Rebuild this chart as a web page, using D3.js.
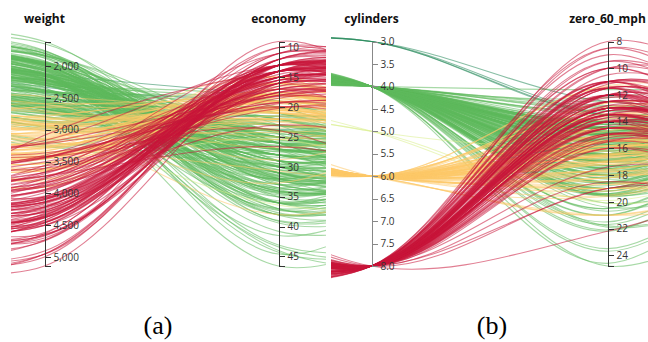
<!DOCTYPE html>
<html>
<head>
<meta charset="utf-8">
<script src="https://cdn.jsdelivr.net/npm/d3@7"></script>
<style>
  html, body { margin: 0; padding: 0; background: #fff; }
  svg { display: block; }
  .axis path, .axis line { stroke: #333; shape-rendering: crispEdges; }
  .axis text { font-family: "Open Sans", sans-serif; font-size: 10px; fill: #333; }
  .axis.muted path, .axis.muted line { stroke: #888; }
  .title { font-family: "Open Sans", sans-serif; font-weight: bold; font-size: 12px; fill: #111; }
  .caption { font-family: "Liberation Serif", "Times New Roman", serif; font-size: 26px; fill: #000; }
</style>
</head>
<body>
<svg id="chart" width="648" height="342"></svg>
<script>
// Cars (auto-mpg), grouped by model year 1970 … 1982, one value per car in each column.
const economy = [
  18,15,18,16,17,15,14,14,14,15,15,14,15,14,24,22,18,21,27,26,25,24,25,26,21,10,10,11,9,
  27,28,25,19,16,17,19,18,14,14,14,14,12,13,13,18,22,19,18,23,28,30,30,31,35,27,26,
  24,25,23,20,21,13,14,15,14,17,11,13,12,13,19,15,13,13,14,18,22,21,26,22,28,23,28,27,
  13,14,13,14,15,12,13,13,14,13,12,13,18,16,18,18,23,26,11,12,13,12,18,20,21,22,18,19,21,26,15,16,29,24,20,19,15,24,20,11,
  20,21,19,15,31,26,32,25,16,16,18,16,13,14,14,14,29,26,26,31,32,28,24,26,24,26,31,
  19,18,15,15,16,15,16,14,17,16,15,18,21,20,13,29,23,20,23,24,25,24,18,29,19,23,23,22,25,33,
  28,25,25,26,27,17.5,16,15.5,14.5,22,22,24,22.5,29,24.5,29,33,20,18,18.5,17.5,29.5,32,28,26.5,20,13,19,19,16.5,16.5,13,13,13,
  31.5,30,36,25.5,33.5,17.5,17,15.5,15,17.5,20.5,19,18.5,16,15.5,15.5,16,29,24.5,26,25.5,30.5,33.5,30,30.5,22,21.5,21.5,
  43.1,36.1,32.8,39.4,36.1,19.9,19.4,20.2,19.2,20.5,20.2,25.1,20.5,19.4,20.6,20.8,18.6,18.1,19.2,17.7,18.1,17.5,30,27.5,27.2,30.9,21.1,23.2,23.8,23.9,20.3,17,21.6,16.2,31.5,29.5,
  21.5,19.8,22.3,20.2,20.6,17,17.6,16.5,18.2,16.9,15.5,19.2,18.5,31.9,34.1,35.7,27.4,25.4,23,27.2,23.9,34.2,34.5,31.8,37.3,28.4,28.8,26.8,33.5,
  41.5,38.1,32.1,37.2,28,26.4,24.3,19.1,34.3,29.8,31.3,37,32.2,46.6,27.9,40.8,44.3,43.4,36.4,30,44.6,33.8,29.8,32.7,23.7,35,32.4,
  27.2,26.6,25.8,23.5,30,39.1,39,35.1,32.3,37,37.7,34.1,34.7,34.4,29.9,33,33.7,32.4,32.9,31.6,28.1,30.7,25.4,24.2,22.4,26.6,20.2,17.6,
  28,27,34,31,29,27,24,36,37,31,38,36,36,36,34,38,32,38,25,38,26,22,32,36,27,27,44,32,28,31
];
const cylinders = [
  8,8,8,8,8,8,8,8,8,8,8,8,8,8,4,6,6,6,4,4,4,4,4,4,6,8,8,8,8,
  4,4,4,6,6,6,6,6,8,8,8,8,8,8,8,6,4,6,6,4,4,4,4,4,4,4,4,
  4,4,4,4,4,8,8,8,8,8,8,8,8,8,3,8,8,8,8,4,4,4,4,4,4,4,4,4,
  8,8,8,8,8,8,8,8,8,8,8,8,6,6,6,6,6,4,8,8,8,8,6,4,4,4,3,4,6,4,8,8,4,4,4,4,8,4,6,8,
  6,6,6,6,4,4,4,4,6,6,6,8,8,8,8,8,4,4,4,4,4,4,4,4,4,4,4,
  6,6,6,6,8,8,8,8,6,6,6,6,6,8,8,4,4,6,4,4,4,4,6,4,6,4,4,4,4,4,
  4,4,4,4,4,8,8,8,8,6,6,6,6,4,4,4,4,6,6,6,6,4,4,4,4,4,8,4,6,6,8,8,8,8,
  4,4,4,4,4,8,8,8,8,6,6,6,6,8,8,8,8,4,4,4,4,4,4,4,4,6,4,3,
  4,4,4,4,4,8,8,8,6,6,6,4,6,6,6,6,6,6,8,6,8,8,4,4,4,4,4,4,4,4,5,6,4,6,4,4,
  6,6,4,6,6,8,8,8,8,8,8,8,8,4,4,4,4,5,8,4,8,4,4,4,4,4,6,6,4,
  4,4,4,4,4,4,4,6,4,4,4,4,4,4,4,4,4,4,5,4,4,4,4,6,3,4,4,
  4,4,4,6,4,4,4,4,4,4,4,4,4,4,4,4,4,4,4,4,4,6,6,6,6,8,6,6,
  4,4,4,4,4,4,4,4,4,4,4,4,4,4,4,4,4,4,6,6,4,6,4,4,4,4,4,4,4,4
];
const displacement = [
  307,350,318,304,302,429,454,440,455,390,383,340,400,455,113,198,199,200,97,97,110,107,104,121,199,360,307,318,304,
  97,140,113,232,225,250,250,232,350,400,351,318,383,400,400,258,140,250,250,122,116,79,88,71,72,97,91,
  113,97.5,97,140,122,350,400,318,351,304,429,350,350,400,70,304,307,302,318,121,121,120,96,122,97,120,98,97,
  350,304,350,302,318,429,400,351,318,440,455,360,225,250,232,250,198,97,400,400,360,350,232,97,140,108,70,122,155,98,350,400,68,116,114,121,318,121,156,350,
  198,200,232,250,79,122,71,140,250,258,225,302,350,318,302,304,98,79,97,76,83,90,90,116,120,108,79,
  225,250,250,250,400,350,318,351,231,250,258,225,231,262,302,97,140,232,140,134,90,119,171,90,232,115,120,121,121,91,
  107,116,140,98,101,305,318,304,351,225,250,200,232,85,98,90,91,225,250,250,258,97,85,97,140,130,318,120,156,168,350,350,302,318,
  98,111,79,122,85,305,260,318,302,250,231,225,250,400,350,400,351,97,151,97,140,98,98,97,97,146,121,80,
  90,98,78,85,91,260,318,302,231,200,200,140,225,232,231,200,225,258,305,231,302,318,98,134,119,105,134,156,151,119,131,163,121,163,89,98,
  231,200,140,232,225,305,302,351,318,350,351,267,360,89,86,98,121,183,350,141,260,105,105,85,91,151,173,173,151,
  98,89,98,86,151,140,151,225,97,134,120,119,108,86,156,85,90,90,121,146,91,97,89,168,70,122,107,
  135,151,156,173,135,79,86,81,97,85,89,91,105,98,98,105,107,108,119,120,141,145,168,146,231,350,200,225,
  112,112,112,112,135,151,140,105,91,91,105,98,120,107,108,91,91,91,181,262,156,232,144,135,151,140,97,135,120,119
];
const weight = [
  3504,3693,3436,3433,3449,4341,4354,4312,4425,3850,3563,3609,3761,3086,2372,2833,2774,2587,2130,1835,2672,2430,2375,2234,2648,4615,4376,4382,4732,
  2130,2264,2228,2634,3439,3329,3302,3288,4209,4464,4154,4096,4955,4746,5140,2962,2408,3282,3139,2220,2123,2074,2065,1773,1613,1834,1955,
  2278,2126,2254,2408,2226,4274,4385,4135,4129,3672,4633,4502,4456,4422,2330,3892,4098,4294,4077,2933,2511,2979,2189,2395,2288,2506,2164,2100,
  4100,3672,3988,4042,3777,4952,4464,4363,4237,4735,4951,3821,3121,3278,2945,3021,2904,1950,4997,4906,4654,4499,2789,2279,2401,2379,2124,2310,2472,2265,4082,4278,1867,2158,2582,2868,3399,2660,2807,3664,
  3102,2875,2901,3336,1950,2451,1836,2542,3781,3632,3613,4141,4699,4457,4638,4257,2219,1963,2300,1649,2003,2125,2108,2246,2489,2391,2000,
  3264,3459,3432,3158,4668,4440,4498,4657,3907,3897,3730,3785,3039,3221,3169,2171,2639,2914,2592,2702,2223,2545,2984,1937,3211,2694,2957,2945,2671,1795,
  2464,2220,2572,2255,2202,4215,4190,3962,4215,3233,3353,3012,3085,2035,2164,1937,1795,3651,3574,3645,3193,1825,1990,2155,2565,3150,3940,3270,2930,3820,4380,4055,3870,3755,
  2045,2155,1825,2300,1945,3880,4060,4140,4295,3520,3425,3630,3525,4220,4165,4325,4335,1940,2740,2265,2755,2051,2075,1985,2190,2815,2600,2720,
  1985,1800,1985,2070,1800,3365,3735,3570,3535,3155,2965,2720,3430,3210,3380,3070,3620,3410,3425,3445,3205,4080,2155,2560,2300,2230,2515,2745,2855,2405,2830,3140,2795,3410,1990,2135,
  3245,2990,2890,3265,3360,3840,3725,3955,3830,4360,4054,3605,3940,1925,1975,1915,2670,3530,3900,3190,3420,2200,2150,2020,2130,2670,2595,2700,2556,
  2144,1968,2120,2019,2678,2870,3003,3381,2188,2711,2542,2434,2265,2110,2800,2110,2085,2335,2950,3250,1850,2145,1845,2910,2420,2500,2290,
  2490,2635,2620,2725,2385,1755,1875,1760,2065,1975,2050,1985,2215,2045,2380,2190,2210,2350,2615,2635,3230,3160,2900,2930,3415,3725,3060,3465,
  2605,2640,2395,2575,2525,2735,2865,1980,2025,1970,2125,2125,2160,2205,2245,1965,1965,1995,2945,3015,2585,2835,2665,2370,2950,2790,2130,2295,2625,2720
];
const zero60 = [
  12,11.5,11,12,10.5,10,9,8.5,10,8.5,10,8,9.5,10,15,15.5,15.5,16,14.5,20.5,17.5,14.5,17.5,12.5,15,14,15,13.5,18.5,
  14.5,15.5,14,13,15.5,15.5,15.5,15.5,12,11.5,13.5,13,11.5,12,12,13.5,19,15,14.5,14,14,19.5,14.5,19,18,19,20.5,
  15.5,17,23.5,19.5,16.5,12,12,13.5,13,11.5,11,13.5,13.5,12.5,13.5,12.5,14,16,14,14.5,18,19.5,18,16,17,14.5,15,16.5,
  13,11.5,13,14.5,12.5,11.5,12,13,14.5,11,11,11,16.5,18,16,16.5,16,21,14,12.5,13,12.5,15,19,19.5,16.5,13.5,18.5,14,15.5,13,9.5,19.5,15.5,14,15.5,11,14,13.5,11,
  16.5,17,16,17,19,16.5,21,17,17,18,16.5,14,14.5,13.5,16,15.5,16.5,15.5,14.5,16.5,19,14.5,15.5,14,15,15.5,16,
  16,16,21,19.5,11.5,14,14.5,13.5,21,18.5,19,19,15,13.5,12,16,17,16,18.5,13.5,16.5,17,14.5,14,17,15,17,14.5,13.5,17.5,
  15.5,16.9,14.9,17.7,15.3,13,13,13.9,12.8,15.4,14.5,17.6,17.6,22.2,22.1,14.2,17.4,17.7,21,16.2,17.8,12.2,17,16.4,13.6,15.7,13.2,21.9,15.5,16.7,12.1,12,15,14,
  18.5,14.8,18.6,15.5,16.8,12.5,19,13.7,14.9,16.4,16.9,17.7,19,11.1,11.4,12.2,14.5,14.5,16,18.2,15.8,17,15.9,16.4,14.1,14.5,12.8,13.5,
  21.5,14.4,19.4,18.6,16.4,15.5,13.2,12.8,19.2,18.2,15.8,15.4,17.2,17.2,15.8,16.7,18.7,15.1,13.2,13.4,11.2,13.7,16.5,14.2,14.7,14.5,14.8,16.7,17.6,14.9,15.9,13.6,15.7,15.8,14.9,16.6,
  15.4,18.2,17.3,18.2,16.6,15.4,13.4,13.2,15.2,14.9,14.3,15,13,14,15.2,14.4,15,20.1,17.4,24.8,22.2,13.2,14.9,19.2,14.7,16,11.3,12.9,13.2,
  14.7,18.8,15.5,16.4,16.5,18.1,20.1,18.7,15.8,15.5,17.5,15,15.2,17.9,14.4,19.2,21.7,23.7,19.9,21.8,13.8,18,15.3,11.4,12.5,15.1,17,
  15.7,16.4,14.4,12.6,12.9,16.9,16.4,16.1,17.8,19.4,17.3,16,14.9,16.2,20.7,14.2,14.4,16.8,14.8,18.3,20.4,19.6,12.6,13.8,15.8,19,17.1,16.6,
  19.6,18.6,18,16.2,16,18,16.4,15.3,18.2,17.6,14.7,17.3,14.5,14.5,16.9,15,15.7,16.2,16.4,17,14.5,14.7,13.9,13,17.3,15.6,24.6,11.6,18.6,19.4
];

// Line colour per cylinder count (red = many cylinders, green = few).
const cylinderLevels = [3, 4, 5, 6, 8];
const cylinderColors = ["#24885a", "#5fba5d", "#d9ef8b", "#fdc868", "#c8153a"];

const cars = economy.map((_, i) => ({
  economy: economy[i],
  cylinders: cylinders[i],
  displacement: displacement[i],
  weight: weight[i],
  zero_60_mph: zero60[i]
}));

// Fewer cylinders are drawn first so the heavier cars sit on top.
const drawOrder = cars.slice().sort((a, b) => d3.ascending(a.cylinders, b.cylinders));

const svg = d3.select("#chart");
const yTop = 41.5, yBottom = 266;

const y = {};
for (const key of ["economy", "cylinders", "displacement", "weight", "zero_60_mph"]) {
  y[key] = d3.scaleLinear().domain(d3.extent(cars, d => d[key])).range([yTop, yBottom]);
}
const color = d3.scaleOrdinal().domain(cylinderLevels).range(cylinderColors);

// Two views of the same parallel-coordinates layout; the neighbouring
// (unlabelled) axes sit outside each view so the curves run on past the edges.
const panels = [
  {
    id: "a", caption: "(a)", captionX: 158, clip: [11, 326],
    axes: [
      { key: "displacement", x: -190, shown: false },
      { key: "weight", x: 44.5, shown: true },
      { key: "economy", x: 278.5, shown: true },
      { key: "zero_60_mph", x: 512, shown: false }
    ]
  },
  {
    id: "b", caption: "(b)", captionX: 492, clip: [331, 648],
    axes: [
      { key: "displacement", x: 136, shown: false },
      { key: "cylinders", x: 371.5, shown: true, muted: true },
      { key: "zero_60_mph", x: 607.5, shown: true },
      { key: "weight", x: 843, shown: false }
    ]
  }
];

const line = d3.line()
  .x(p => p[0])
  .y(p => p[1])
  .curve(d3.curveCardinal.tension(0));

panels.forEach(panel => {
  const g = svg.append("g").attr("class", "panel-" + panel.id);

  g.append("clipPath").attr("id", "clip-" + panel.id)
    .append("rect")
    .attr("x", panel.clip[0]).attr("y", 0)
    .attr("width", panel.clip[1] - panel.clip[0]).attr("height", 290);

  g.append("g")
    .attr("clip-path", "url(#clip-" + panel.id + ")")
    .attr("fill", "none")
    .selectAll("path")
    .data(drawOrder)
    .join("path")
    .attr("d", d => line(panel.axes.map(a => [a.x, y[a.key](d[a.key])])))
    .attr("stroke", d => color(d.cylinders))
    .attr("stroke-width", 1.1)
    .attr("stroke-opacity", 0.55);

  panel.axes.filter(a => a.shown).forEach(a => {
    const ax = g.append("g")
      .attr("class", "axis" + (a.muted ? " muted" : ""))
      .attr("transform", `translate(${a.x},0)`)
      .call(d3.axisRight(y[a.key]));
    ax.select(".domain").attr("fill", "none");
    g.append("text")
      .attr("class", "title")
      .attr("x", a.x).attr("y", 23)
      .attr("text-anchor", "middle")
      .text(a.key);
  });

  svg.append("text")
    .attr("class", "caption")
    .attr("x", panel.captionX).attr("y", 334)
    .attr("text-anchor", "middle")
    .text(panel.caption);
});
</script>
</body>
</html>
